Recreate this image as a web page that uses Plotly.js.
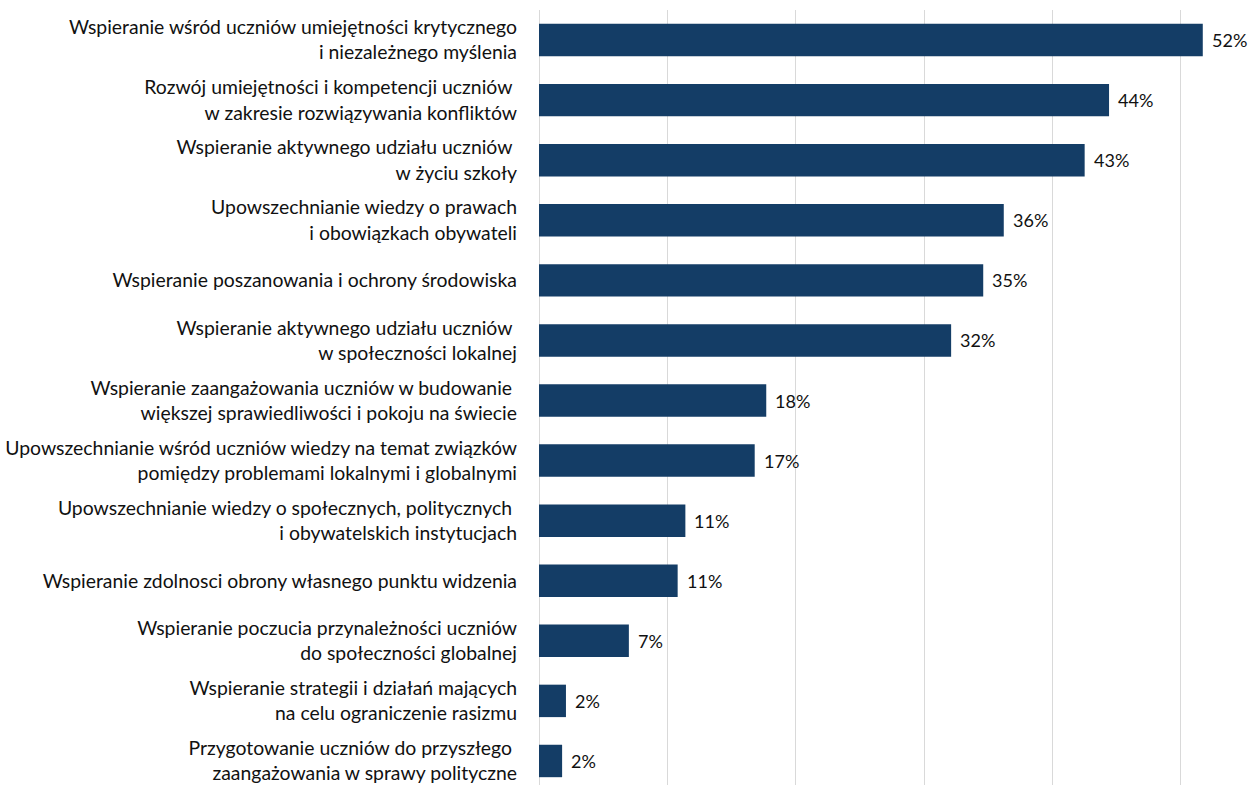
<!DOCTYPE html>
<html>
<head>
<meta charset="utf-8">
<script src="https://cdn.plot.ly/plotly-3.0.1.min.js"></script>
<style>html,body{margin:0;padding:0;background:#fff;}#chart{width:1249px;height:785px;}</style>
</head>
<body>
<div id="chart"></div>
<script>
const categories = [
  "Wspieranie wśród uczniów umiejętności krytycznego<br>i niezależnego myślenia",
  "Rozwój umiejętności i kompetencji uczniów <br>w zakresie rozwiązywania konfliktów",
  "Wspieranie aktywnego udziału uczniów <br>w życiu szkoły",
  "Upowszechnianie wiedzy o prawach<br>i obowiązkach obywateli",
  "Wspieranie poszanowania i ochrony środowiska",
  "Wspieranie aktywnego udziału uczniów <br>w społeczności lokalnej",
  "Wspieranie zaangażowania uczniów w budowanie <br>większej sprawiedliwości i pokoju na świecie",
  "Upowszechnianie wśród uczniów wiedzy na temat związków<br>pomiędzy problemami lokalnymi i globalnymi",
  "Upowszechnianie wiedzy o społecznych, politycznych <br>i obywatelskich instytucjach",
  "Wspieranie zdolnosci obrony własnego punktu widzenia",
  "Wspieranie poczucia przynależności uczniów<br>do społeczności globalnej",
  "Wspieranie strategii i działań mających<br>na celu ograniczenie rasizmu",
  "Przygotowanie uczniów do przyszłego <br>zaangażowania w sprawy polityczne"
];
const values = [51.7, 44.4, 42.5, 36.2, 34.6, 32.1, 17.7, 16.8, 11.4, 10.8, 7.0, 2.1, 1.8];
const valueLabels = ["52%", "44%", "43%", "36%", "35%", "32%", "18%", "17%", "11%", "11%", "7%", "2%", "2%"];

const trace = {
  type: "bar",
  orientation: "h",
  y: categories,
  x: values,
  marker: {color: "#143d66"},
  hoverinfo: "none"
};

const annotations = values.map((v, i) => ({
  x: v, y: categories[i], xref: "x", yref: "y",
  text: valueLabels[i], showarrow: false,
  xanchor: "left", xshift: 7,
  font: {family: "Lato, 'Liberation Sans', sans-serif", size: 18, color: "#111"}
}));

const layout = {
  width: 1249, height: 785,
  margin: {l: 539, r: 0, t: 10, b: 0, pad: 0},
  paper_bgcolor: "#fff", plot_bgcolor: "#fff",
  bargap: 0.46,
  showlegend: false,
  xaxis: {
    range: [0, 55.3],
    dtick: 10,
    showgrid: true, gridcolor: "#d9d9d9", gridwidth: 1,
    showticklabels: false, zeroline: true, zerolinecolor: "#d9d9d9", zerolinewidth: 1,
    showline: false, fixedrange: true
  },
  yaxis: {
    type: "category",
    range: [12.4, -0.5],
    showgrid: false, showline: false, zeroline: false,
    ticks: "", ticklabelstandoff: 21,
    tickfont: {family: "Lato, 'Liberation Sans', sans-serif", size: 19.4, color: "#111"},
    fixedrange: true
  },
  annotations: annotations,
  font: {family: "Lato, 'Liberation Sans', sans-serif"}
};

Plotly.newPlot("chart", [trace], layout, {staticPlot: true, displayModeBar: false});
</script>
</body>
</html>
